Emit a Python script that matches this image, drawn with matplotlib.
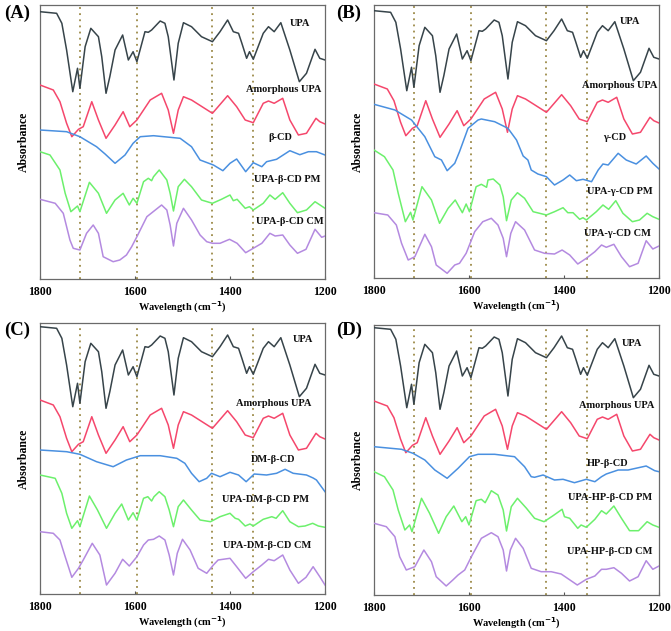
import matplotlib
matplotlib.use("Agg")
import matplotlib.pyplot as plt

# ---- spectra (wavenumber, relative absorbance) ----
upa_wn = [1800, 1765, 1754, 1744, 1731, 1721, 1716, 1705, 1693, 1677, 1670, 1661, 1653, 1642, 1626,
          1614, 1604, 1596, 1579, 1572, 1565, 1547, 1537, 1530, 1518, 1509, 1498, 1481, 1460, 1437,
          1421, 1405, 1393, 1382, 1375, 1365, 1359, 1351, 1330, 1319, 1307, 1293, 1274, 1254, 1239,
          1221, 1211, 1200]
upa_ab = [267.3, 265.7, 255.7, 229, 187.3, 210.7, 190.7, 232.3, 250.7, 242.3, 222.3, 185.7, 202.3, 229, 244,
          219, 227.3, 217.3, 247.3, 246.7, 249, 258, 255.7, 242.3, 199, 235.7, 256.3, 252.3, 242.3, 237.3,
          247.3, 259, 247.3, 245.7, 235.7, 220.7, 227.3, 219.7, 245.7, 252.3, 247.3, 256.3, 229, 197.3, 205.7,
          229.7, 220.7, 219]

amor_wn = [1800, 1772, 1758, 1744, 1733, 1719, 1709, 1691, 1677, 1661, 1642, 1625, 1611, 1596, 1582,
           1568, 1544, 1530, 1519, 1509, 1498, 1481, 1437, 1405, 1386, 1368, 1351, 1330, 1319, 1307,
           1289, 1274, 1256, 1239, 1219, 1211, 1200]
amor_ab = [194, 189, 177.3, 155.7, 142.3, 149.7, 152.3, 177.3, 159, 140.7, 154, 167.3, 152.3, 159, 169,
           179, 185.7, 169, 145.7, 169, 182.3, 179, 165.7, 183.3, 172.3, 159, 156.3, 175.7, 178, 175.7,
           180.7, 159, 144, 145.7, 160.7, 157.3, 155]

# panel A
bcd_wn = [1800, 1744, 1716, 1681, 1663, 1642, 1621, 1604, 1589, 1561, 1505, 1481, 1463, 1435, 1415,
          1400, 1386, 1367, 1351, 1333, 1323, 1302, 1274, 1253, 1235, 1218, 1200]
bcd_ab = [149, 147.3, 142.3, 132.3, 125, 115.7, 124, 135.7, 142.3, 143.3, 140.7, 132.3, 119, 114, 108.3,
          115.7, 120, 107.3, 116.3, 112.3, 117.3, 119.7, 128.3, 124.3, 127.3, 127.3, 124]

bpm_wn = [1800, 1779, 1758, 1747, 1735, 1721, 1716, 1696, 1677, 1660, 1642, 1625, 1612, 1604, 1596,
          1582, 1572, 1565, 1561, 1549, 1533, 1526, 1519, 1509, 1496, 1481, 1460, 1437, 1418, 1400,
          1393, 1385, 1368, 1359, 1351, 1330, 1316, 1305, 1289, 1274, 1258, 1239, 1221, 1200]
bpm_ab = [127.3, 124, 109, 85.7, 67.3, 73, 67.3, 96.7, 85.7, 65.7, 79, 85.7, 74, 80.7, 75.7,
          97.3, 100.7, 98.3, 102.3, 109, 99, 85.7, 68, 92.3, 99.7, 92.3, 79, 75.7, 79.7, 84,
          78.3, 79.7, 70.7, 72.3, 69, 75.7, 84, 79.7, 86.3, 75.7, 66.3, 69, 77.3, 70.7]

bcm_wn = [1800, 1768, 1751, 1737, 1730, 1716, 1702, 1688, 1677, 1667, 1646, 1632, 1618, 1607, 1596,
          1575, 1544, 1533, 1526, 1519, 1512, 1498, 1481, 1463, 1449, 1437, 1421, 1401, 1385, 1367,
          1351, 1333, 1316, 1305, 1289, 1274, 1258, 1240, 1221, 1207, 1200]
bcm_ab = [79.7, 75.7, 65.7, 39, 30.7, 29, 45.7, 54, 45.7, 22.3, 17.3, 19, 24, 32.3, 42.3,
          62.3, 74, 69, 54, 33, 55.7, 70.7, 59, 44, 37.3, 35.7, 35.7, 39.7, 35.7, 26.3,
          30.7, 35.7, 45.7, 43, 44, 34, 25.7, 29.7, 49.7, 41.7, 43]

# panel B
gcd_wn = [1800, 1756, 1721, 1693, 1672, 1658, 1646, 1630, 1620, 1602, 1581, 1574, 1546, 1518, 1500,
          1486, 1476, 1469, 1455, 1437, 1420, 1402, 1388, 1374, 1360, 1342, 1328, 1318, 1307, 1286,
          1269, 1248, 1227, 1213, 1200]
gcd_ab = [173.7, 168, 158, 141.3, 121.3, 118, 107.3, 114.7, 126.3, 149.7, 158, 159, 156.3, 149.7, 138,
          122, 118, 108, 104, 101.3, 93, 98, 103, 97.3, 98.7, 96.3, 108, 114, 113, 124.7,
          118, 114, 122, 114.7, 109]

gpm_wn = [1800, 1778, 1760, 1749, 1734, 1723, 1718, 1699, 1679, 1662, 1644, 1629, 1614, 1606, 1599,
          1585, 1574, 1563, 1560, 1549, 1535, 1528, 1521, 1511, 1498, 1483, 1465, 1437, 1420, 1402,
          1392, 1381, 1367, 1360, 1353, 1332, 1318, 1306, 1291, 1276, 1256, 1241, 1225, 1213, 1200]
gpm_ab = [128, 121.3, 108, 84.7, 56.3, 65.7, 58, 91.3, 78, 54.7, 69.7, 78, 65.3, 74, 66.3,
          91.3, 93.7, 90.7, 98, 99, 93, 81.3, 57.3, 78, 85.3, 79.7, 66.3, 63, 66.3, 70.3,
          65.3, 65.3, 58.7, 60.3, 58, 66.3, 73, 68.7, 77.3, 64.7, 56.3, 58, 64.7, 61.3, 58.7]

gcm_wn = [1800, 1771, 1753, 1742, 1728, 1714, 1693, 1679, 1669, 1646, 1630, 1620, 1606, 1588, 1571,
          1553, 1539, 1528, 1521, 1512, 1502, 1483, 1462, 1441, 1420, 1404, 1388, 1371, 1353, 1335,
          1321, 1311, 1295, 1279, 1262, 1244, 1227, 1213, 1200]
gcm_ab = [65.3, 63, 53, 34.7, 18, 21.3, 43.7, 31.3, 13, 4.7, 13, 14.7, 24.7, 46.3, 56.3,
          59.7, 53, 39.7, 21.3, 44.7, 56.3, 48, 28, 24.7, 24, 28, 23, 14, 19.7, 26.3,
          33, 30.7, 33.7, 21.3, 11.3, 14.7, 37.3, 29, 32]

# panel C
dcd_wn = [1800, 1744, 1716, 1681, 1646, 1618, 1589, 1547, 1512, 1495, 1481, 1465, 1449, 1439, 1421,
          1400, 1382, 1366, 1349, 1323, 1302, 1284, 1267, 1239, 1225, 1218, 1200]
dcd_ab = [144, 142.3, 139.7, 132.3, 127.3, 134, 138.3, 138.3, 135.7, 130.7, 120.7, 112.3, 115.7, 120.7, 117.3,
          121.7, 119, 112.3, 120, 119, 120.7, 124.7, 120.7, 119, 116, 114, 102.3]

dpm_wn = [1800, 1768, 1754, 1744, 1733, 1721, 1716, 1696, 1679, 1660, 1642, 1628, 1614, 1604, 1596,
          1582, 1573, 1565, 1560, 1549, 1537, 1528, 1519, 1509, 1498, 1481, 1463, 1441, 1421, 1400,
          1389, 1382, 1368, 1358, 1351, 1330, 1312, 1303, 1289, 1274, 1256, 1242, 1226, 1214, 1200]
dpm_ab = [119, 115.7, 100.7, 80.7, 65.7, 73.3, 67.3, 98, 84, 65.7, 80.7, 90, 74, 81.3, 74,
          95.7, 97.3, 93, 97.3, 102.3, 97.3, 84, 67.3, 87.3, 94, 84, 74, 72.3, 77.3, 80.7,
          75.7, 74.7, 68, 70, 68, 74.7, 77.3, 75.7, 83.3, 72.3, 67.3, 68, 70.7, 68, 66.7]

dcm_wn = [1800, 1772, 1758, 1747, 1733, 1719, 1709, 1690, 1674, 1667, 1660, 1642, 1626, 1612, 1596,
          1582, 1572, 1561, 1549, 1537, 1528, 1519, 1511, 1500, 1484, 1467, 1449, 1435, 1425, 1400,
          1386, 1367, 1351, 1333, 1319, 1307, 1289, 1274, 1256, 1240, 1225, 1211, 1200]
dcm_ab = [62.3, 60.7, 54, 37.3, 16.7, 25.7, 34, 50.7, 39, 24, 9, 20.7, 34.7, 28, 37.3,
          49, 54, 54.7, 58, 54, 39, 19, 40.7, 54.7, 44, 25.7, 20.7, 29, 34, 35.7,
          27.3, 15.7, 22.3, 29, 34.7, 33.3, 39, 24, 10.7, 16.7, 27.3, 17.3, 9]

# panel D
hcd_wn = [1800, 1742, 1718, 1693, 1672, 1646, 1623, 1599, 1581, 1546, 1504, 1483, 1469, 1462, 1444,
          1420, 1402, 1392, 1378, 1353, 1335, 1321, 1311, 1286, 1265, 1227, 1209, 1200]
hcd_ab = [148.3, 145.7, 141.7, 135, 125, 116.7, 126.7, 138.3, 140.7, 140.7, 138.3, 128.3, 118.3, 117.7, 120,
          115, 115.7, 114.3, 112.3, 115.7, 113.3, 118.3, 121, 125, 125, 129, 124.3, 123.3]

hpm_wn = [1800, 1778, 1760, 1749, 1735, 1725, 1720, 1700, 1683, 1664, 1648, 1632, 1615, 1607, 1600,
          1585, 1574, 1566, 1561, 1553, 1539, 1528, 1521, 1511, 1498, 1479, 1462, 1442, 1423, 1404,
          1399, 1388, 1371, 1364, 1353, 1335, 1321, 1311, 1295, 1279, 1262, 1243, 1225, 1213, 1200]
hpm_ab = [123.3, 118.3, 105, 85, 65, 70, 63.3, 96.7, 81.7, 61.7, 78.3, 89, 73.3, 78.3, 70,
          94.3, 95.7, 92.3, 96.7, 104.3, 100, 85, 64, 88.3, 96.7, 86.7, 76.7, 73.3, 79.3, 85.7,
          78.3, 76.7, 66.7, 70, 67.7, 75.7, 84.3, 81, 89, 76.7, 64.3, 64.3, 73.3, 70, 67.7]

hcm_wn = [1800, 1774, 1756, 1746, 1732, 1714, 1695, 1679, 1669, 1648, 1634, 1623, 1609, 1595, 1574,
          1553, 1539, 1528, 1521, 1513, 1502, 1486, 1469, 1448, 1427, 1406, 1372, 1353, 1335, 1321,
          1311, 1295, 1279, 1262, 1244, 1227, 1213, 1200]
hcm_ab = [71.7, 68.3, 58.3, 38.3, 25, 28.3, 45, 33.3, 18.3, 9, 15, 20, 25, 38.3, 56.7,
          62.3, 58.3, 45, 24, 45, 56.7, 46.7, 26.7, 23.3, 23.3, 21, 10, 15.7, 19, 25.7,
          25.7, 27.3, 21.7, 14, 18.3, 34.3, 25.7, 29]

marker_wn = [1716, 1596, 1437, 1351]
xticks = [1800, 1600, 1400, 1200]

panels = [
    {"tag": "(A)", "cd": (bcd_wn, bcd_ab), "pm": (bpm_wn, bpm_ab), "cm": (bcm_wn, bcm_ab),
     "names": ["UPA", "Amorphous UPA", "β-CD", "UPA-β-CD PM", "UPA-β-CD CM"],
     "lab_x": [1253, 1288, 1295, 1280, 1274], "lab_y": [256, 189, 141, 100, 57]},
    {"tag": "(B)", "cd": (gcd_wn, gcd_ab), "pm": (gpm_wn, gpm_ab), "cm": (gcm_wn, gcm_ab),
     "names": ["UPA", "Amorphous UPA", "γ-CD", "UPA-γ-CD PM", "UPA-γ-CD CM"],
     "lab_x": [1262, 1283, 1293, 1283, 1287], "lab_y": [256, 192, 141, 86, 45]},
    {"tag": "(C)", "cd": (dcd_wn, dcd_ab), "pm": (dpm_wn, dpm_ab), "cm": (dcm_wn, dcm_ab),
     "names": ["UPA", "Amorphous UPA", "DM-β-CD", "UPA-DM-β-CD PM", "UPA-DM-β-CD CM"],
     "lab_x": [1246, 1309, 1309, 1326, 1322], "lab_y": [255, 191, 134, 95, 49]},
    {"tag": "(D)", "cd": (hcd_wn, hcd_ab), "pm": (hpm_wn, hpm_ab), "cm": (hcm_wn, hcm_ab),
     "names": ["UPA", "Amorphous UPA", "HP-β-CD", "UPA-HP-β-CD PM", "UPA-HP-β-CD CM"],
     "lab_x": [1257, 1289, 1308, 1304, 1304], "lab_y": [252, 190, 132, 98, 44]},
]

colors = ["#37444a", "#f5476c", "#4a90e0", "#6cf06c", "#b48ae0"]

plt.rcParams["font.family"] = ["Liberation Serif", "DejaVu Serif"]
plt.rcParams["font.weight"] = "bold"
plt.rcParams["mathtext.default"] = "bf"

W, H = 671, 631
fig = plt.figure(figsize=(W / 100, H / 100), dpi=100)

# pixel boxes (left, top, right, bottom)
boxes = [(40, 5, 325, 279), (374, 5, 659, 278), (40, 323, 325, 594), (374, 325, 659, 595)]
tag_pos = [(4, 13), (336, 13), (4, 330), (336, 330)]

for p, box, tp in zip(panels, boxes, tag_pos):
    l, t, r, b = box
    ax = fig.add_axes([l / W, 1 - b / H, (r - l) / W, (b - t) / H])
    hpx = b - t

    for wn in marker_wn:
        ax.axvline(wn, color="#9c8a48", linestyle=(0, (1, 2.4)), linewidth=1.3, zorder=1)

    series = [(upa_wn, upa_ab), (amor_wn, amor_ab), p["cd"], p["pm"], p["cm"]]
    for (xs, ys), c in zip(series, colors):
        ax.plot(xs, ys, color=c, linewidth=1.1, solid_joinstyle="round", zorder=3)

    for name, lx, ly in zip(p["names"], p["lab_x"], p["lab_y"]):
        ax.text(lx, ly, name, ha="center", va="center", fontsize=7.5,
                fontweight="bold", color="#111111", zorder=4)

    ax.set_xlim(1800, 1200)
    ax.set_ylim(0, hpx)
    ax.set_xticks(xticks)
    ax.set_xticklabels([str(v) for v in xticks], fontsize=8.5, fontweight="bold")
    ax.set_yticks([])
    ax.tick_params(axis="x", direction="in", length=2, pad=5, color="#555555")
    for s in ax.spines.values():
        s.set_color("#6a6a6a")
        s.set_linewidth(0.9)

    ax.set_xlabel("Wavelength (cm$^{-1}$)", fontsize=7.5, fontweight="bold")
    ax.xaxis.set_label_coords(0.5, -21 / hpx)
    ax.set_ylabel("Absorbance", fontsize=8.5, fontweight="bold")
    ax.yaxis.set_label_coords(-10 / (r - l), 0.5)

    fig.text(tp[0] / W, 1 - tp[1] / H, p["tag"], fontsize=13.5, fontweight="bold",
             ha="left", va="center")

fig.savefig("out.png", dpi=100)
